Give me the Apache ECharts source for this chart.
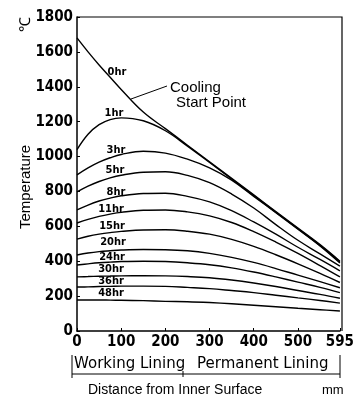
<!DOCTYPE html>
<html>
<head>
<meta charset="utf-8">
<script src="https://cdn.jsdelivr.net/npm/echarts@6/dist/echarts.min.js"></script>
<style>
  html, body { margin: 0; padding: 0; background: #fff; }
  #chart { width: 357px; height: 400px; }
</style>
</head>
<body>
<div id="chart"></div>
<script>
// distance from inner surface (mm)
const distance = [0, 25, 50, 75, 100, 150, 200, 250, 300, 350, 400, 450, 500, 550, 595];

// temperature profiles (deg C) after cooling start
const hr0  = [1680, 1600, 1525, 1455, 1385, 1255, 1160, 1065, 970, 875, 780, 685, 590, 495, 400];
const hr1  = [1040, 1128, 1183, 1212, 1222, 1205, 1148, 1060, 966, 871, 776, 681, 586, 491, 396];
const hr3  = [895, 935, 968, 993, 1012, 1030, 1020, 985, 935, 865, 772, 678, 584, 488, 390];
const hr5  = [797, 830, 857, 878, 893, 910, 913, 892, 850, 785, 705, 610, 520, 442, 372];
const hr8  = [694, 722, 745, 762, 775, 788, 790, 772, 740, 690, 625, 555, 480, 410, 345];
const hr11 = [619, 640, 657, 670, 680, 692, 694, 683, 660, 622, 570, 510, 445, 375, 310];
const hr15 = [527, 543, 555, 564, 571, 579, 580, 572, 555, 525, 485, 437, 385, 330, 278];
const hr20 = [436, 447, 455, 460, 464, 467, 466, 460, 445, 422, 393, 358, 320, 283, 248];
const hr24 = [378, 385, 391, 395, 398, 400, 398, 391, 380, 362, 338, 310, 280, 250, 220];
const hr30 = [310, 312, 314, 315, 316, 317, 316, 312, 305, 292, 275, 255, 232, 210, 188];
const hr36 = [252, 253, 255, 256, 257, 257, 256, 250, 243, 232, 220, 205, 190, 175, 160];
const hr48 = [178, 178, 178, 177, 176, 174, 170, 168, 163, 156, 148, 139, 130, 122, 115];

const curves = [hr0, hr1, hr3, hr5, hr8, hr11, hr15, hr20, hr24, hr30, hr36, hr48];
const curveNames = ['0hr', '1hr', '3hr', '5hr', '8hr', '11hr', '15hr', '20hr', '24hr', '30hr', '36hr', '48hr'];

const xTicks = [0, 100, 200, 300, 400, 500, 595];
const yTicks = [0, 200, 400, 600, 800, 1000, 1200, 1400, 1600, 1800];

// where the hour labels sit (pixel centres)
const labelPos = [[117, 72], [114, 113], [116, 150], [115, 170], [116, 192], [111, 209],
  [112, 226], [113, 242], [112, 257], [111, 269], [111, 281], [111, 293]];

const narrow = "'Liberation Sans Narrow', 'DejaVu Sans Condensed', sans-serif";
const plain = "'Liberation Sans', Arial, sans-serif";
const wide = "'DejaVu Sans', sans-serif";

const chart = echarts.init(document.getElementById('chart'));

const series = curves.map((ys, i) => ({
  name: curveNames[i],
  type: 'line',
  smooth: 0.4,
  showSymbol: false,
  silent: true,
  lineStyle: { color: '#000', width: 1.4 },
  data: distance.map((d, j) => [d, ys[j]])
}));

const hourLabels = curveNames.map((n, i) => ({
  type: 'text',
  x: labelPos[i][0], y: labelPos[i][1],
  style: { text: n, fill: '#000', font: 'bold 11px ' + narrow, align: 'center', verticalAlign: 'middle' }
}));

const options = {
  animation: false,
  backgroundColor: '#fff',
  grid: { left: 77, right: 15, top: 17, bottom: 69 },
  xAxis: {
    type: 'value', min: 0, max: 595,
    axisLine: { lineStyle: { color: '#000', width: 1.5 } },
    axisTick: { inside: true, length: 3, lineStyle: { color: '#000' }, customValues: xTicks },
    axisLabel: { color: '#000', fontFamily: narrow, fontWeight: 'bold', fontSize: 15, margin: 4,
      customValues: xTicks, formatter: v => String(v) },
    splitLine: { show: false }
  },
  yAxis: {
    type: 'value', min: 0, max: 1800, interval: 200,
    axisLine: { show: true, lineStyle: { color: '#000', width: 1.5 } },
    axisTick: { show: true, inside: true, length: 3, lineStyle: { color: '#000' }, customValues: yTicks },
    axisLabel: { color: '#000', fontFamily: narrow, fontWeight: 'bold', fontSize: 15, margin: 4,
      customValues: yTicks, formatter: v => String(v) },
    splitLine: { show: false }
  },
  series: series,
  graphic: [
    // frame top and right
    { type: 'polyline', shape: { points: [[77, 17], [342, 17], [342, 331]] }, style: { stroke: '#000', lineWidth: 1.2, fill: null } },
    // units and axis title
    { type: 'text', x: 26, y: 24, rotation: Math.PI / 2, style: { text: '℃', fill: '#000', font: '15px ' + plain, align: 'center', verticalAlign: 'middle' } },
    { type: 'text', x: 26, y: 187, rotation: Math.PI / 2, style: { text: 'Temperature', fill: '#000', font: '15px ' + plain, align: 'center', verticalAlign: 'middle' } },
    // cooling start point callout
    { type: 'line', shape: { x1: 131, y1: 99, x2: 167, y2: 86 }, style: { stroke: '#000', lineWidth: 1 } },
    { type: 'text', x: 170, y: 88, style: { text: 'Cooling', fill: '#000', font: '15px ' + plain, verticalAlign: 'middle' } },
    { type: 'text', x: 176, y: 103, style: { text: 'Start Point', fill: '#000', font: '15px ' + plain, verticalAlign: 'middle' } },
    // lining bracket
    { type: 'text', x: 74, y: 364, style: { text: 'Working Lining', fill: '#000', font: '15px ' + wide, verticalAlign: 'middle' } },
    { type: 'text', x: 197, y: 364, style: { text: 'Permanent Lining', fill: '#000', font: '15px ' + wide, verticalAlign: 'middle' } },
    { type: 'line', shape: { x1: 72, y1: 355, x2: 72, y2: 378 }, style: { stroke: '#000', lineWidth: 1 } },
    { type: 'line', shape: { x1: 340, y1: 355, x2: 340, y2: 378 }, style: { stroke: '#000', lineWidth: 1 } },
    { type: 'line', shape: { x1: 72, y1: 374, x2: 340, y2: 374 }, style: { stroke: '#000', lineWidth: 1 } },
    { type: 'line', shape: { x1: 183, y1: 371, x2: 183, y2: 377 }, style: { stroke: '#000', lineWidth: 1 } },
    { type: 'text', x: 88, y: 390, style: { text: 'Distance from Inner Surface', fill: '#000', font: '14px ' + plain, verticalAlign: 'middle' } },
    { type: 'text', x: 322, y: 390, style: { text: 'mm', fill: '#000', font: '13px ' + plain, verticalAlign: 'middle' } }
  ].concat(hourLabels)
};

chart.setOption(options);
</script>
</body>
</html>
